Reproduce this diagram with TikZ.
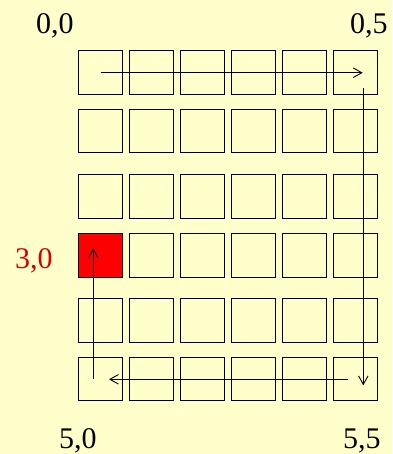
\documentclass[tikz,border=0pt]{standalone}
\usepackage{fontspec}
\setmainfont{Liberation Serif}
\usetikzlibrary{arrows.meta,calc}
\definecolor{bgyellow}{RGB}{255,255,204}
\definecolor{cellred}{RGB}{255,0,0}
\definecolor{labelred}{RGB}{215,0,0}
\begin{document}
\begin{tikzpicture}[x=1pt,y=-1pt,
  cell/.style={draw=black,line width=0.9pt,minimum width=44.4pt,minimum height=43.6pt,inner sep=0pt,outer sep=0pt},
  hot/.style={cell,fill=cellred},
  path/.style={line width=0.9pt,-{Straight Barb[length=8.5pt,width=9.5pt]}},
  lbl/.style={font=\fontsize{30}{36}\selectfont,inner sep=0pt,anchor=base west}]
\fill[bgyellow] (0,0) rectangle (392,454);
\useasboundingbox (0,0) rectangle (392,454);
\def\rowys{72.75,130.85,196.5,255.15,320.5,379}
\foreach \y [count=\r from 0] in \rowys {
  \foreach \c in {0,...,5} {
    \pgfmathsetmacro\xx{100.5+51*\c}
    \node[cell] (b\r\c) at (\xx,\y) {};
  }
}
\node[hot] at (b30) {};
\coordinate (s1) at (b00.center);
\coordinate (e1) at ($(b05.center)+(7.2,0)$);
\coordinate (s2) at ($(b05.center)+(7.8,15)$);
\coordinate (e2) at ($(b55.center)+(7.8,6.3)$);
\coordinate (s3) at ($(b55.center)+(-7.8,0.3)$);
\coordinate (e3) at ($(b50.center)+(8.5,0.3)$);
\coordinate (s4) at ($(b50.center)+(-7.2,0)$);
\coordinate (e4) at ($(b30.center)+(-7.2,-6.8)$);
\draw[path] (s1) -- (e1);
\draw[path] (s2) -- (e2);
\draw[path] (s3) -- (e3);
\draw[path] (s4) -- (e4);
\node[lbl] (l00) at (36,34) {0,0};
\node[lbl] (l05) at (350,34) {0,5};
\node[lbl,text=labelred] (l30) at (15,268) {3,0};
\node[lbl] (l50) at (59,448.5) {5,0};
\node[lbl] (l55) at (343,448.5) {5,5};
\end{tikzpicture}
\end{document}
